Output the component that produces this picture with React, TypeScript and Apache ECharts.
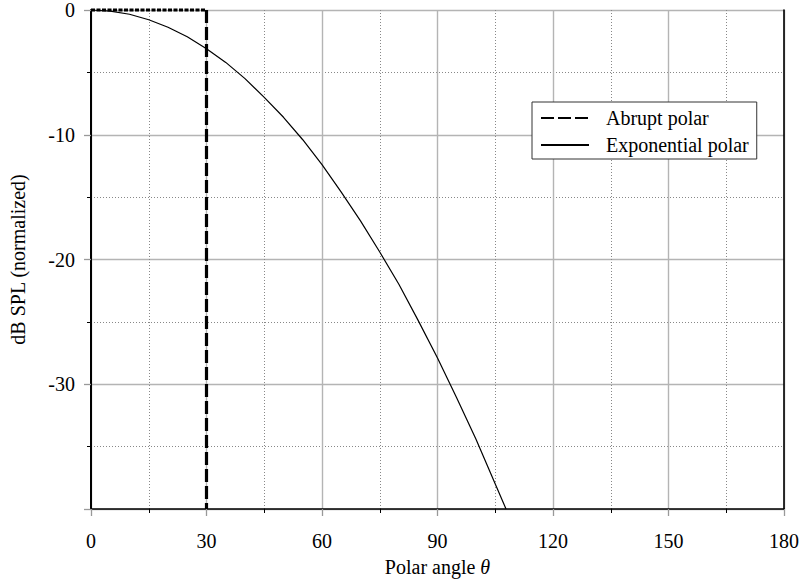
import React, { useEffect, useRef } from "react";
import * as echarts from "echarts";

const FONT = "'Liberation Serif', 'Times New Roman', serif";

// Exponential polar curve
const expAngles = [0, 5, 10, 15, 20, 25, 30, 35, 40, 45, 50, 55, 60, 65, 70, 75, 80, 85, 90, 95, 100, 105, 107.8];
const expValues = [0, -0.09, -0.34, -0.78, -1.38, -2.15, -3.1, -4.2, -5.5, -7.0, -8.6, -10.4, -12.4, -14.6, -16.9, -19.4, -22.0, -24.9, -27.9, -31.1, -34.4, -38.0, -40.0];

// Abrupt polar: flat 0 dB up to 30 degrees, then drops off
const abruptTopAngles = [0, 30];
const abruptTopValues = [0, 0];
const abruptDropAngles = [30, 30];
const abruptDropValues = [0, -40];

const xTicks = [0, 30, 60, 90, 120, 150, 180];
const yTicks = [0, -10, -20, -30, -40];

const zip = (a: number[], b: number[]) => a.map((v, i) => [v, b[i]]);

export default function App() {
  const ref = useRef<HTMLDivElement>(null);
  useEffect(() => {
    if (!ref.current) return;
    const chart = echarts.init(ref.current, undefined, { renderer: "svg" });
    const axisFont = { fontFamily: FONT, fontSize: 20, color: "#000" };
    chart.setOption({
      animation: false,
      backgroundColor: "#fff",
      textStyle: { fontFamily: FONT },
      grid: { left: 83, right: 19, top: 9.5, bottom: 76, containLabel: false },
      legend: {
        data: ["Abrupt polar", "Exponential polar"],
        orient: "vertical",
        left: 532,
        top: 102,
        itemWidth: 48,
        itemHeight: 14,
        itemGap: 7,
        padding: [6, 8, 4, 8],
        backgroundColor: "#fff",
        borderColor: "#333",
        borderWidth: 1,
        borderRadius: 0,
        itemStyle: { opacity: 0, borderWidth: 0 },
        textStyle: { ...axisFont, padding: [0, 0, 0, 12] },
      },
      xAxis: {
        type: "value",
        min: xTicks[0],
        max: xTicks[xTicks.length - 1],
        interval: 30,
        name: "Polar angle {i|θ}",
        nameLocation: "middle",
        nameGap: 48,
        nameTextStyle: {
          ...axisFont,
          rich: { i: { fontFamily: FONT, fontSize: 20, fontStyle: "italic", color: "#000" } },
        },
        axisLine: { show: true, onZero: false, lineStyle: { color: "#000", width: 1.6 } },
        axisTick: { show: true, length: 7, lineStyle: { color: "#999", width: 1.3 } },
        minorTick: { show: true, splitNumber: 2, length: 4, lineStyle: { color: "#000", width: 1 } },
        axisLabel: { ...axisFont, margin: 22 },
        splitLine: { show: true, lineStyle: { color: "#b4b4b4", width: 1.4 } },
        minorSplitLine: { show: true, lineStyle: { color: "#888", width: 1, type: [1, 2] } },
      },
      yAxis: [
        {
          type: "value",
          min: yTicks[yTicks.length - 1],
          max: yTicks[0],
          interval: 10,
          name: "dB SPL (normalized)",
          nameLocation: "middle",
          nameGap: 63,
          nameTextStyle: axisFont,
          axisLine: { show: true, onZero: false, lineStyle: { color: "#000", width: 2 } },
          axisTick: { show: true, length: 7, lineStyle: { color: "#999", width: 1.3 } },
          minorTick: { show: true, splitNumber: 2, length: 4, lineStyle: { color: "#000", width: 1 } },
          axisLabel: {
            ...axisFont,
            margin: 16,
            formatter: (v: number) => (v === yTicks[yTicks.length - 1] ? "" : String(v)),
          },
          splitLine: { show: true, lineStyle: { color: "#b4b4b4", width: 1.4 } },
          minorSplitLine: { show: true, lineStyle: { color: "#888", width: 1, type: [1, 2] } },
        },
        {
          type: "value",
          position: "right",
          min: yTicks[yTicks.length - 1],
          max: yTicks[0],
          interval: 10,
          axisLine: { show: true, onZero: false, lineStyle: { color: "#000", width: 1.6 } },
          axisTick: { show: false },
          axisLabel: { show: false },
          splitLine: { show: false },
        },
      ],
      series: [
        {
          name: "Exponential polar",
          type: "line",
          data: zip(expAngles, expValues),
          symbol: "none",
          lineStyle: { color: "#000", width: 1.2 },
          itemStyle: { color: "#000" },
          z: 3,
        },
        {
          name: "Abrupt polar top",
          type: "line",
          data: zip(abruptTopAngles, abruptTopValues),
          symbol: "none",
          clip: false,
          lineStyle: { color: "#000", width: 3.2, type: [4, 1.5] },
          z: 4,
        },
        {
          name: "Abrupt polar",
          type: "line",
          data: zip(abruptDropAngles, abruptDropValues),
          symbol: "none",
          clip: false,
          lineStyle: { color: "#000", width: 3.2, type: [13, 4] },
          itemStyle: { color: "#000" },
          z: 4,
        },
      ],
    });
    return () => chart.dispose();
  }, []);
  return (
    <div
      ref={ref}
      style={{ position: "fixed", left: 0, top: 0, width: 803, height: 585, background: "#fff" }}
    />
  );
}
